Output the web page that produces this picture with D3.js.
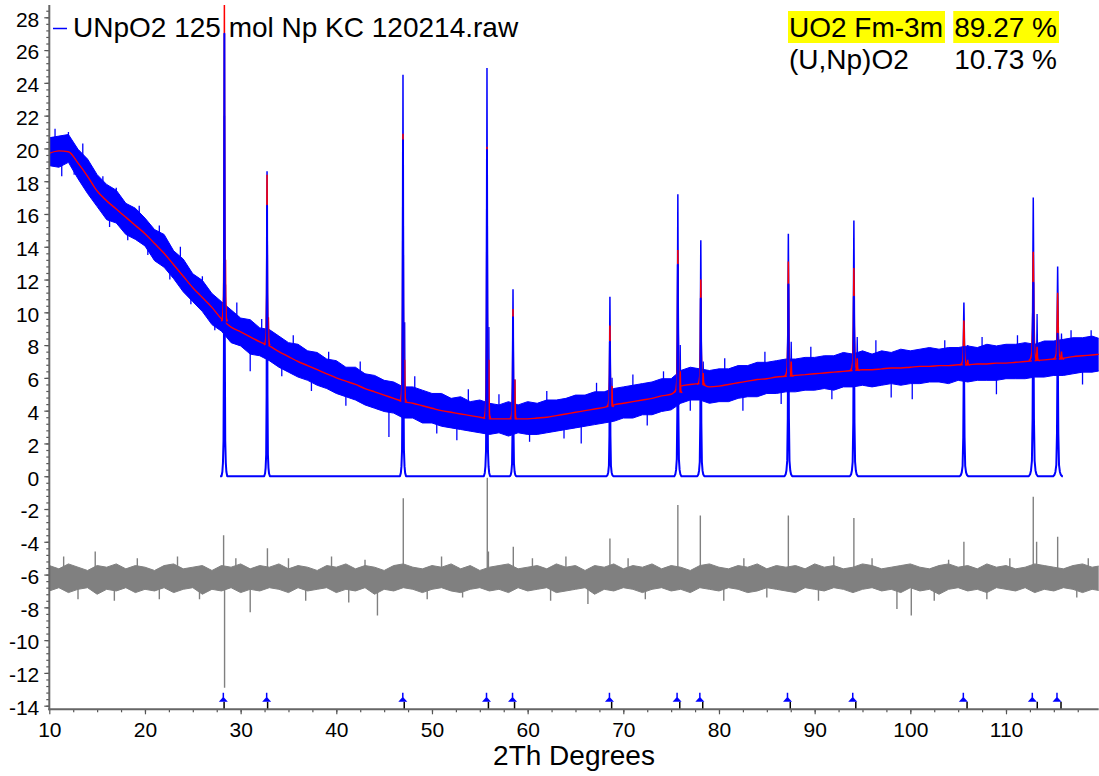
<!DOCTYPE html>
<html>
<head>
<meta charset="utf-8">
<title>UNpO2 refinement</title>
<script src="https://cdn.jsdelivr.net/npm/d3@7"></script>
<style>
  body { margin: 0; background: #ffffff; }
  #chart text { font-family: "Liberation Sans", Arial, sans-serif; fill: #000; }
</style>
</head>
<body>
<div id="chart"></div>
<script>
// 2Th grid used for the background and the noise envelopes (1 degree steps)
var angles = d3.range(10, 121);

// calculated background (red line), read every degree
var background = [19.7, 19.85, 19.8, 19.1, 18.3, 17.4, 16.8, 16.3, 15.8, 15.3,
  14.8, 14.2, 13.6, 12.9, 12.2, 11.5, 10.9, 10.3, 9.6, 9.1,
  8.8, 8.5, 8.2, 7.95, 7.6, 7.3, 7.0, 6.75, 6.5, 6.25,
  6.0, 5.8, 5.6, 5.35, 5.15, 4.95, 4.75, 4.55, 4.45, 4.3,
  4.15, 4.0, 3.9, 3.8, 3.7, 3.6, 3.5, 3.5, 3.5, 3.5,
  3.5, 3.55, 3.6, 3.7, 3.8, 3.9, 4.0, 4.1, 4.2, 4.35,
  4.45, 4.55, 4.65, 4.75, 4.9, 5.0, 5.5, 5.6, 5.65, 5.45,
  5.5, 5.6, 5.7, 5.8, 5.9, 5.95, 6.05, 6.1, 6.15, 6.2,
  6.25, 6.3, 6.35, 6.4, 6.45, 6.5, 6.5, 6.55, 6.6, 6.6,
  6.65, 6.7, 6.7, 6.75, 6.75, 6.8, 6.8, 6.85, 6.85, 6.9,
  6.9, 6.95, 7.0, 7.05, 7.1, 7.15, 7.2, 7.3, 7.35, 7.4,
  7.45];

// observed pattern: upper and lower edge of the dense noise band
var obsHigh = [20.65, 20.75, 20.85, 19.95, 19.35, 18.4, 17.8, 17.45, 16.65, 16.35,
  15.75, 15.05, 14.75, 13.75, 13.25, 12.35, 11.95, 11.15, 10.65, 10.15,
  9.65, 9.55, 9.05, 8.95, 8.55, 8.15, 8.05, 7.65, 7.55, 7.15,
  7.05, 6.65, 6.65, 6.25, 6.15, 5.85, 5.75, 5.45, 5.45, 5.25,
  5.05, 5.05, 4.75, 4.85, 4.55, 4.65, 4.45, 4.35, 4.55, 4.35,
  4.55, 4.45, 4.65, 4.65, 4.75, 4.95, 4.95, 5.15, 5.15, 5.35,
  5.45, 5.55, 5.65, 5.75, 5.95, 5.95, 6.45, 6.65, 6.55, 6.45,
  6.55, 6.55, 6.75, 6.75, 6.95, 6.95, 7.05, 7.15, 7.15, 7.25,
  7.25, 7.35, 7.35, 7.55, 7.45, 7.65, 7.45, 7.65, 7.55, 7.75,
  7.65, 7.75, 7.85, 7.75, 7.85, 7.85, 7.95, 7.85, 8.05, 7.95,
  8.05, 8.05, 8.15, 8.05, 8.25, 8.25, 8.35, 8.45, 8.45, 8.55,
  8.35];
var obsLow = [18.95, 18.85, 19.15, 18.15, 17.25, 16.45, 15.65, 15.45, 14.75, 14.45,
  14.05, 13.15, 12.75, 12.05, 11.25, 10.65, 10.05, 9.25, 8.85, 8.15,
  7.95, 7.45, 7.35, 7.05, 6.65, 6.35, 6.05, 5.85, 5.55, 5.35,
  5.05, 4.85, 4.65, 4.35, 4.15, 3.95, 3.85, 3.55, 3.55, 3.25,
  3.25, 3.05, 2.95, 2.85, 2.75, 2.65, 2.55, 2.65, 2.45, 2.65,
  2.55, 2.55, 2.65, 2.75, 2.85, 2.95, 3.05, 3.15, 3.25, 3.35,
  3.55, 3.55, 3.75, 3.75, 3.95, 4.05, 4.45, 4.65, 4.65, 4.45,
  4.55, 4.55, 4.75, 4.85, 4.85, 5.05, 5.05, 5.15, 5.15, 5.25,
  5.25, 5.35, 5.25, 5.45, 5.45, 5.55, 5.45, 5.55, 5.65, 5.55,
  5.65, 5.65, 5.75, 5.75, 5.65, 5.85, 5.75, 5.85, 5.85, 5.85,
  5.95, 5.95, 5.95, 6.05, 6.05, 6.15, 6.15, 6.25, 6.35, 6.35,
  6.45];
// single noise excursions of the observed pattern [2Th, counts]
var obsSpikes = [[10.3, 20.7], [10.6, 21.2], [11.3, 18.3], [12.0, 21.0], [12.6, 18.4],
  [13.5, 20.3], [14.4, 17.1], [15.6, 18.3], [16.3, 15.2], [17.0, 17.6], [18.2, 14.4],
  [19.4, 16.5], [20.3, 13.5], [21.5, 15.3], [22.6, 12.0], [23.7, 14.0], [24.8, 10.5],
  [26.0, 12.2], [27.3, 8.9], [29.6, 10.6], [31.0, 6.4], [32.2, 9.6], [34.3, 6.1],
  [35.5, 8.6], [37.4, 5.2], [39.2, 7.6], [41.0, 4.3], [42.5, 7.0], [45.5, 2.4],
  [48.2, 6.1], [50.5, 2.6], [52.6, 2.2], [53.8, 5.3], [57.0, 5.0], [60.2, 2.1],
  [62.0, 5.2], [63.8, 2.3], [65.6, 2.0], [67.2, 5.7], [71.0, 6.2], [72.5, 3.1],
  [74.2, 6.4], [77.0, 4.0], [80.6, 7.2], [82.5, 4.0], [84.8, 7.6], [86.5, 4.4],
  [89.6, 7.9], [91.8, 4.7], [96.4, 8.3], [98.0, 4.8], [100.2, 4.7], [103.6, 8.3],
  [107.5, 8.5], [109.0, 5.0], [111.2, 8.6], [116.8, 8.9], [118.0, 5.6], [118.9, 8.9]];

// difference curve: dense noise band edges
var diffHigh = [-5.45, -5.65, -5.35, -5.55, -5.75, -5.45, -5.55, -5.35, -5.65, -5.45,
  -5.55, -5.75, -5.45, -5.35, -5.65, -5.55, -5.45, -5.75, -5.45, -5.55,
  -5.35, -5.65, -5.45, -5.55, -5.35, -5.65, -5.45, -5.55, -5.75, -5.45,
  -5.55, -5.35, -5.65, -5.45, -5.55, -5.75, -5.45, -5.35, -5.55, -5.65,
  -5.45, -5.55, -5.35, -5.65, -5.45, -5.75, -5.55, -5.45, -5.35, -5.65,
  -5.55, -5.45, -5.65, -5.35, -5.55, -5.45, -5.75, -5.45, -5.55, -5.35,
  -5.65, -5.45, -5.55, -5.35, -5.65, -5.45, -5.55, -5.75, -5.45, -5.35,
  -5.55, -5.65, -5.45, -5.55, -5.35, -5.65, -5.45, -5.55, -5.45, -5.65,
  -5.35, -5.55, -5.45, -5.65, -5.55, -5.35, -5.45, -5.65, -5.55, -5.45,
  -5.35, -5.55, -5.65, -5.45, -5.35, -5.55, -5.45, -5.65, -5.35, -5.55,
  -5.45, -5.65, -5.55, -5.35, -5.45, -5.55, -5.65, -5.45, -5.35, -5.55,
  -5.45];
var diffLow = [-7.0, -6.8, -7.1, -6.9, -6.8, -7.2, -6.9, -7.0, -6.8, -7.1,
  -6.9, -7.0, -6.8, -7.1, -6.9, -6.8, -7.2, -6.9, -7.0, -6.8,
  -7.1, -6.9, -7.0, -6.8, -6.9, -7.1, -6.8, -7.0, -6.9, -6.8,
  -7.1, -6.9, -7.0, -6.8, -7.2, -6.9, -7.0, -6.8, -6.9, -7.1,
  -6.9, -6.8, -7.0, -7.1, -6.9, -6.8, -7.0, -6.9, -7.1, -6.8,
  -7.0, -6.9, -6.8, -7.1, -7.0, -6.9, -6.8, -7.2, -6.9, -7.0,
  -6.8, -6.9, -7.1, -6.9, -6.8, -7.0, -6.9, -7.1, -6.8, -6.9,
  -7.0, -6.8, -6.9, -7.1, -7.0, -6.8, -6.9, -7.0, -7.1, -6.8,
  -6.9, -7.0, -6.8, -6.9, -7.1, -6.9, -6.8, -7.0, -6.9, -7.1,
  -6.8, -7.0, -6.9, -7.2, -6.9, -6.8, -7.0, -6.9, -7.1, -6.8,
  -6.9, -7.0, -6.8, -7.1, -6.9, -7.0, -6.8, -6.9, -7.1, -6.9,
  -7.0];
var diffCentre = -6.2;
// spikes of the difference curve [2Th, value]
var diffSpikes = [[11.5, -4.9], [13.0, -7.5], [14.8, -4.6], [16.8, -7.6], [19.2, -5.0],
  [21.5, -7.5], [23.4, -4.9], [25.7, -7.5], [28.22, -3.6], [28.32, -12.9], [29.5, -5.0],
  [31.0, -8.3], [32.8, -4.4], [35.0, -5.0], [36.8, -7.6], [39.5, -4.9], [41.3, -7.7],
  [43.0, -5.1], [44.3, -8.5], [47.0, -1.35], [49.5, -7.5], [51.0, -4.9], [53.2, -7.4],
  [55.78, -0.1], [55.9, -4.6], [58.5, -4.3], [60.5, -5.0], [62.4, -7.6], [64.0, -4.9],
  [66.3, -7.8], [68.6, -3.8], [70.5, -5.0], [72.3, -7.5], [75.7, -1.75], [78.05, -2.4],
  [80.5, -7.6], [82.6, -5.0], [85.0, -7.4], [87.25, -2.4], [90.4, -7.6], [92.0, -4.9],
  [94.1, -2.55], [96.0, -5.0], [98.6, -8.1], [100.1, -8.5], [102.5, -7.6], [104.0, -5.1],
  [105.6, -4.0], [108.0, -7.5], [110.4, -5.0], [112.85, -1.25], [113.2, -4.0],
  [115.4, -3.7], [117.4, -7.4], [118.6, -5.0]];

// reflections: position, background under it, observed / calculated / phase tops
var peakPos = [28.3, 32.76, 46.97, 55.75, 58.47, 68.6, 75.7, 78.1, 87.25, 94.1, 105.6, 112.85, 115.4];
var peakBase = [9.45, 8.0, 4.56, 3.52, 3.5, 4.25, 5.1, 5.6, 6.1, 6.45, 6.8, 7.05, 7.15];
var peakObs = [22.0, 18.6, 24.5, 24.9, 11.4, 10.95, 17.2, 14.4, 14.8, 15.6, 10.6, 17.0, 12.8];
var peakCalc = [28.9, 18.4, 20.9, 20.1, 10.2, 9.2, 13.8, 12.0, 13.1, 12.7, 9.5, 13.7, 11.2];
var peakPhase = [27.0, 16.5, 20.5, 19.9, 9.7, 8.2, 12.9, 10.85, 11.7, 10.95, 7.9, 11.8, 8.7];
var peakHalf = [0.3, 0.3, 0.32, 0.33, 0.33, 0.35, 0.37, 0.37, 0.4, 0.42, 0.45, 0.47, 0.47];
// K-alpha2 shoulders
var k2Pos = [28.42, 32.9, 47.15, 55.95, 58.67, 68.82, 75.95, 78.35, 87.55, 94.45, 106.0, 113.25, 115.8];
var k2Obs = [11.7, 9.5, 9.4, 9.1, 5.9, 6.0, 8.0, 7.0, 8.2, 8.5, 8.0, 9.9, 8.7];
var k2Calc = [13.2, 9.7, 7.1, 7.1, 5.9, 5.5, 6.4, 6.3, 7.0, 7.2, 7.1, 7.9, 7.6];

// hkl tick marks of the two phases
var tickUO2 = [28.19, 32.72, 46.95, 55.7, 58.42, 68.55, 75.62, 78.0, 87.16, 93.98, 105.54, 112.75, 115.33];
var tickUNpO2 = [28.27, 32.82, 47.1, 55.9, 58.63, 68.78, 75.9, 78.3, 87.45, 94.3, 105.93, 113.27, 115.75];

// axis tick labels
var xTickLabels = [10, 20, 30, 40, 50, 60, 70, 80, 90, 100, 110];
var yTickLabels = [-14, -12, -10, -8, -6, -4, -2, 0, 2, 4, 6, 8, 10, 12, 14, 16, 18, 20, 22, 24, 26, 28];

// texts
var legendLabel = "UNpO2 125 mol Np KC 120214.raw";
var phaseNames = ["UO2 Fm-3m", "(U,Np)O2"];
var phaseWt = ["89.27 %", "10.73 %"];
var xTitle = "2Th Degrees";

function init() {
  var w = 1099;
  var h = 776;
  var left = 49.3, right = 1098.7, top = 5, bottom = 709.3;

  var x = d3.scaleLinear().domain([10, 119.69]).range([left, right]);
  var y = d3.scaleLinear().domain([-14.22, 28.75]).range([bottom, top]);

  var svg = d3.select("#chart")
    .append("svg")
    .attr("width", w)
    .attr("height", h);

  svg.append("clipPath")
    .attr("id", "plotClip")
    .append("rect")
    .attr("x", left)
    .attr("y", top)
    .attr("width", right - left)
    .attr("height", bottom - top);

  // highlight boxes sit under all the texts
  var highlight = svg.append("g");
  var plot = svg.append("g").attr("clip-path", "url(#plotClip)");

  var line = d3.line()
    .x(function (d) { return x(d[0]); })
    .y(function (d) { return y(d[1]); });

  // peak outline: offset in half widths, fraction of the peak height
  var profile = [[-1, 0], [-0.7, 0.01], [-0.5, 0.03], [-0.3, 0.08], [-0.15, 0.3], [0, 1],
    [0.15, 0.3], [0.3, 0.08], [0.5, 0.03], [0.7, 0.01], [1, 0]];
  function peakPoints(pos, base, tip, half) {
    return profile.map(function (p) {
      return [pos + p[0] * half, base + p[1] * (tip - base)];
    });
  }

  // observed noise band
  var band = d3.area()
    .x(function (d, i) { return x(angles[i]); })
    .y0(function (d, i) { return y(obsLow[i]); })
    .y1(function (d, i) { return y(obsHigh[i]); });
  plot.append("path")
    .datum(angles)
    .attr("d", band)
    .style("fill", "#0000ff")
    .style("stroke", "#0000ff")
    .style("stroke-width", 1);

  plot.selectAll(".obsSpike")
    .data(obsSpikes)
    .enter()
    .append("line")
    .attr("class", "obsSpike")
    .attr("x1", function (d) { return x(d[0]); })
    .attr("x2", function (d) { return x(d[0]); })
    .attr("y1", function (d) { return y(background[Math.round(d[0]) - 10]); })
    .attr("y2", function (d) { return y(d[1]); })
    .style("stroke", "#0000ff")
    .style("stroke-width", 1.3);

  // observed peaks
  peakPos.forEach(function (p, i) {
    plot.append("path")
      .attr("d", line(peakPoints(p, peakBase[i], peakObs[i], peakHalf[i])))
      .style("fill", "none")
      .style("stroke", "#0000ff")
      .style("stroke-width", 1.5);
    plot.append("path")
      .attr("d", line(peakPoints(k2Pos[i], peakBase[i], k2Obs[i], peakHalf[i] * 0.6)))
      .style("fill", "none")
      .style("stroke", "#0000ff")
      .style("stroke-width", 1.3);
  });

  // calculated pattern (red)
  plot.append("path")
    .datum(angles)
    .attr("d", d3.line()
      .x(function (d, i) { return x(angles[i]); })
      .y(function (d, i) { return y(background[i]); })
      .curve(d3.curveMonotoneX))
    .style("fill", "none")
    .style("stroke", "#ff0000")
    .style("stroke-width", 1.4);

  peakPos.forEach(function (p, i) {
    plot.append("path")
      .attr("d", line(peakPoints(p, peakBase[i], peakCalc[i], peakHalf[i])))
      .style("fill", "none")
      .style("stroke", "#ff0000")
      .style("stroke-width", 1.5);
    plot.append("path")
      .attr("d", line(peakPoints(k2Pos[i], peakBase[i], k2Calc[i], peakHalf[i] * 0.6)))
      .style("fill", "none")
      .style("stroke", "#ff0000")
      .style("stroke-width", 1.5);
  });

  // phase pattern drawn from zero
  var phasePts = [[peakPos[0] - 0.45, 0]];
  peakPos.forEach(function (p, i) {
    phasePts = phasePts.concat(peakPoints(p, 0, peakPhase[i], peakHalf[i]));
  });
  phasePts.push([peakPos[peakPos.length - 1] + 0.55, 0]);
  plot.append("path")
    .attr("d", line(phasePts))
    .style("fill", "none")
    .style("stroke", "#0000ff")
    .style("stroke-width", 2)
    .style("stroke-linejoin", "round");

  // difference curve (grey)
  var diffBand = d3.area()
    .x(function (d, i) { return x(angles[i]); })
    .y0(function (d, i) { return y(diffLow[i]); })
    .y1(function (d, i) { return y(diffHigh[i]); });
  plot.append("path")
    .datum(angles)
    .attr("d", diffBand)
    .style("fill", "#808080")
    .style("stroke", "#808080")
    .style("stroke-width", 1);

  plot.selectAll(".diffSpike")
    .data(diffSpikes)
    .enter()
    .append("line")
    .attr("class", "diffSpike")
    .attr("x1", function (d) { return x(d[0]); })
    .attr("x2", function (d) { return x(d[0]); })
    .attr("y1", y(diffCentre))
    .attr("y2", function (d) { return y(d[1]); })
    .style("stroke", "#808080")
    .style("stroke-width", 1.4);

  // hkl ticks
  var tickLevel = -13.76;
  svg.selectAll(".tickNp")
    .data(tickUNpO2)
    .enter()
    .append("line")
    .attr("class", "tickNp")
    .attr("x1", function (d) { return x(d); })
    .attr("x2", function (d) { return x(d); })
    .attr("y1", y(tickLevel))
    .attr("y2", bottom)
    .style("stroke", "#000")
    .style("stroke-width", 1.5);

  var marks = svg.selectAll(".tickU")
    .data(tickUO2)
    .enter()
    .append("g")
    .attr("class", "tickU")
    .attr("transform", function (d) { return "translate(" + x(d) + "," + y(tickLevel) + ")"; });
  marks.append("path")
    .attr("d", "M-4.5,0L4.5,0L0,-5Z")
    .style("fill", "#0000ff");
  marks.append("line")
    .attr("y1", -4)
    .attr("y2", -9)
    .style("stroke", "#0000ff")
    .style("stroke-width", 1.5);

  // axes
  var xAxis = svg.append("g")
    .attr("transform", "translate(0," + bottom + ")")
    .call(d3.axisBottom(x).tickValues(xTickLabels).tickSize(5).tickSizeOuter(0).tickPadding(8)
      .tickFormat(function (d) { return String(d); }));
  svg.append("g")
    .attr("transform", "translate(0," + bottom + ")")
    .call(d3.axisBottom(x).tickValues(d3.range(12.5, 119, 2.5)).tickSize(3).tickFormat(""))
    .select(".domain").remove();

  var yAxis = svg.append("g")
    .attr("transform", "translate(" + left + ",0)")
    .call(d3.axisLeft(y).tickValues(yTickLabels).tickSize(5).tickSizeOuter(0).tickPadding(5)
      .tickFormat(function (d) { return String(d); }));
  svg.append("g")
    .attr("transform", "translate(" + left + ",0)")
    .call(d3.axisLeft(y).tickValues(d3.range(-14, 28.7, 0.4)).tickSize(3).tickFormat(""))
    .select(".domain").remove();

  svg.selectAll(".domain").remove();
  svg.append("line")
    .attr("x1", left).attr("x2", left)
    .attr("y1", top).attr("y2", bottom + 1)
    .style("stroke", "#666")
    .style("stroke-width", 2);
  svg.append("line")
    .attr("x1", left - 1).attr("x2", right)
    .attr("y1", bottom).attr("y2", bottom)
    .style("stroke", "#666")
    .style("stroke-width", 2);
  svg.selectAll(".tick line")
    .style("stroke", "#555")
    .style("stroke-width", 1.2);

  xAxis.selectAll("text")
    .style("font-size", "21px");
  yAxis.selectAll("text")
    .style("font-size", "21px")
    .attr("dy", "0.42em");

  svg.append("text")
    .attr("x", (left + right) / 2)
    .attr("y", 765)
    .attr("text-anchor", "middle")
    .style("font-size", "28px")
    .text(xTitle);

  // legend
  svg.append("line")
    .attr("x1", 53).attr("x2", 67)
    .attr("y1", 28.5).attr("y2", 28.5)
    .style("stroke", "#0000ff")
    .style("stroke-width", 1.5);
  svg.append("text")
    .attr("x", 73)
    .attr("y", 37)
    .style("font-size", "28px")
    .text(legendLabel);

  // phase weight table
  var rowY = [37, 69];
  phaseNames.forEach(function (name, i) {
    var t1 = svg.append("text")
      .attr("x", 789)
      .attr("y", rowY[i])
      .style("font-size", "28px")
      .text(name);
    var t2 = svg.append("text")
      .attr("x", 1057)
      .attr("y", rowY[i])
      .attr("text-anchor", "end")
      .style("font-size", "28px")
      .text(phaseWt[i]);
    if (i === 0) {
      [t1, t2].forEach(function (t) {
        var b = t.node().getBBox();
        highlight.append("rect")
          .attr("x", b.x - 1)
          .attr("y", 11)
          .attr("width", b.width + 3)
          .attr("height", 32)
          .style("fill", "#ffff00");
      });
    }
  });
}

window.onload = init;
</script>
</body>
</html>
